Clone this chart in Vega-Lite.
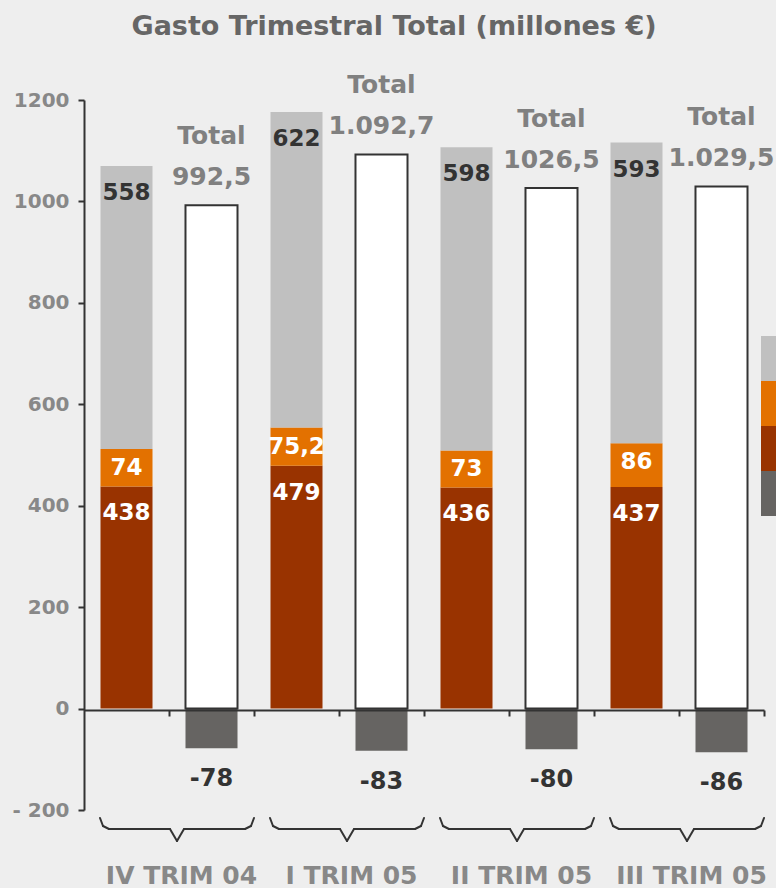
{
  "$schema": "https://vega.github.io/schema/vega-lite/v6.json",
  "width": 680,
  "height": 710,
  "autosize": {"type": "none"},
  "padding": {"left": 84, "top": 100, "right": 12, "bottom": 78},
  "background": "#eeeeee",
  "title": {
    "text": "Gasto Trimestral Total (millones €)",
    "font": "DejaVu Sans",
    "fontSize": 27,
    "fontWeight": "bold",
    "color": "#666666",
    "anchor": "middle",
    "frame": "group",
    "dx": -30,
    "baseline": "bottom",
    "offset": 5
  },
  "config": {
    "view": {"stroke": null},
    "font": "DejaVu Sans"
  },
  "datasets": {
    "gasto": [
      {"barra": "IV TRIM 04", "serie": "Base", "orden": 1, "valor": 438, "etiqueta": "438"},
      {"barra": "IV TRIM 04", "serie": "Variable", "orden": 2, "valor": 74, "etiqueta": "74"},
      {"barra": "IV TRIM 04", "serie": "Otros", "orden": 3, "valor": 558, "etiqueta": "558"},
      {"barra": "IV TRIM 04 Total", "serie": "Total", "orden": 1, "valor": 992.5, "etiqueta": "992,5"},
      {"barra": "IV TRIM 04 Total", "serie": "Ajuste", "orden": 2, "valor": -78, "etiqueta": "-78"},
      {"barra": "I TRIM 05", "serie": "Base", "orden": 1, "valor": 479, "etiqueta": "479"},
      {"barra": "I TRIM 05", "serie": "Variable", "orden": 2, "valor": 75.2, "etiqueta": "75,2"},
      {"barra": "I TRIM 05", "serie": "Otros", "orden": 3, "valor": 622, "etiqueta": "622"},
      {"barra": "I TRIM 05 Total", "serie": "Total", "orden": 1, "valor": 1092.7, "etiqueta": "1.092,7"},
      {"barra": "I TRIM 05 Total", "serie": "Ajuste", "orden": 2, "valor": -83, "etiqueta": "-83"},
      {"barra": "II TRIM 05", "serie": "Base", "orden": 1, "valor": 436, "etiqueta": "436"},
      {"barra": "II TRIM 05", "serie": "Variable", "orden": 2, "valor": 73, "etiqueta": "73"},
      {"barra": "II TRIM 05", "serie": "Otros", "orden": 3, "valor": 598, "etiqueta": "598"},
      {"barra": "II TRIM 05 Total", "serie": "Total", "orden": 1, "valor": 1026.5, "etiqueta": "1026,5"},
      {"barra": "II TRIM 05 Total", "serie": "Ajuste", "orden": 2, "valor": -80, "etiqueta": "-80"},
      {"barra": "III TRIM 05", "serie": "Base", "orden": 1, "valor": 437, "etiqueta": "437"},
      {"barra": "III TRIM 05", "serie": "Variable", "orden": 2, "valor": 86, "etiqueta": "86"},
      {"barra": "III TRIM 05", "serie": "Otros", "orden": 3, "valor": 593, "etiqueta": "593"},
      {"barra": "III TRIM 05 Total", "serie": "Total", "orden": 1, "valor": 1029.5, "etiqueta": "1.029,5"},
      {"barra": "III TRIM 05 Total", "serie": "Ajuste", "orden": 2, "valor": -86, "etiqueta": "-86"}
    ]
  },
  "data": {"name": "gasto"},
  "encoding": {
    "x": {
      "field": "barra",
      "type": "nominal",
      "sort": ["IV TRIM 04", "IV TRIM 04 Total", "I TRIM 05", "I TRIM 05 Total", "II TRIM 05", "II TRIM 05 Total", "III TRIM 05", "III TRIM 05 Total"],
      "scale": {"paddingInner": 0, "paddingOuter": 0},
      "axis": {
        "title": null,
        "offset": -100,
        "bandPosition": 1,
        "labelExpr": "indexof(datum.value, 'Total') >= 0 ? '' : datum.value",
        "labelAngle": 0,
        "labelFont": "DejaVu Sans",
        "labelFontSize": 25,
        "labelFontWeight": "bold",
        "labelColor": "#888888",
        "labelPadding": 147,
        "labelOffset": 55,
        "labelBaseline": "top",
        "labelOverlap": false,
        "labelBound": false,
        "labelLimit": 0,
        "domainColor": "#333333",
        "domainWidth": 2,
        "tickColor": "#333333",
        "tickWidth": 2,
        "tickSize": 6,
        "zindex": 1
      }
    }
  },
  "layer": [
    {
      "transform": [{"filter": "datum.serie !== 'Total'"}],
      "mark": {"type": "bar", "width": {"band": 0.612}},
      "encoding": {
        "y": {
          "field": "valor",
          "type": "quantitative",
          "stack": "zero",
          "scale": {"domain": [-200, 1200], "nice": false},
          "axis": {
            "title": null,
            "values": [-200, 0, 200, 400, 600, 800, 1000, 1200],
            "labelExpr": "datum.value < 0 ? '- ' + abs(datum.value) : '' + datum.value",
            "grid": false,
            "labelFont": "DejaVu Sans",
            "labelFontSize": 20,
            "labelFontWeight": "bold",
            "labelColor": "#888888",
            "labelPadding": 9,
            "domainColor": "#333333",
            "domainWidth": 2,
            "tickColor": "#333333",
            "tickWidth": 2,
            "tickSize": 6,
            "zindex": 1
          }
        },
        "color": {
          "field": "serie",
          "type": "nominal",
          "scale": {
            "domain": ["Otros", "Variable", "Base", "Ajuste"],
            "range": ["#c0c0c0", "#e37100", "#993300", "#666462"]
          },
          "legend": {
            "orient": "none",
            "legendX": 677,
            "legendY": 236,
            "title": null,
            "symbolType": "square",
            "symbolSize": 2025,
            "symbolStrokeWidth": 0,
            "symbolOpacity": 1,
            "rowPadding": 0,
            "padding": 0,
            "labelExpr": "''",
            "labelFontSize": 10
          }
        },
        "order": {"field": "orden", "type": "quantitative"}
      }
    },
    {
      "transform": [{"filter": "datum.serie === 'Total'"}],
      "mark": {"type": "bar", "width": {"band": 0.612}, "fill": "#ffffff", "stroke": "#333333", "strokeWidth": 2},
      "encoding": {
        "y": {"field": "valor", "type": "quantitative"}
      }
    },
    {
      "transform": [
        {"filter": "datum.serie !== 'Total' && datum.serie !== 'Ajuste'"},
        {"stack": "valor", "groupby": ["barra"], "sort": [{"field": "orden"}], "as": ["v0", "v1"]},
        {"filter": "datum.serie !== 'Variable'"}
      ],
      "mark": {"type": "text", "font": "DejaVu Sans", "fontSize": 23, "fontWeight": "bold", "baseline": "middle", "dy": 27},
      "encoding": {
        "y": {"field": "v1", "type": "quantitative"},
        "text": {"field": "etiqueta"},
        "color": {"condition": {"test": "datum.serie === 'Otros'", "value": "#333333"}, "value": "#ffffff"}
      }
    },
    {
      "transform": [
        {"filter": "datum.serie !== 'Total' && datum.serie !== 'Ajuste'"},
        {"stack": "valor", "groupby": ["barra"], "sort": [{"field": "orden"}], "as": ["v0", "v1"]},
        {"filter": "datum.serie === 'Variable'"}
      ],
      "mark": {"type": "text", "font": "DejaVu Sans", "fontSize": 23, "fontWeight": "bold", "baseline": "middle", "dy": 19, "color": "#ffffff"},
      "encoding": {
        "y": {"field": "v1", "type": "quantitative"},
        "text": {"field": "etiqueta"}
      }
    },
    {
      "transform": [{"filter": "datum.serie === 'Total'"}],
      "mark": {"type": "text", "font": "DejaVu Sans", "fontSize": 25, "fontWeight": "bold", "baseline": "middle", "dy": -28, "color": "#808080"},
      "encoding": {
        "y": {"field": "valor", "type": "quantitative"},
        "text": {"field": "etiqueta"}
      }
    },
    {
      "transform": [{"filter": "datum.serie === 'Total'"}],
      "mark": {"type": "text", "font": "DejaVu Sans", "fontSize": 25, "fontWeight": "bold", "baseline": "middle", "dy": -69, "color": "#808080"},
      "encoding": {
        "y": {"field": "valor", "type": "quantitative"},
        "text": {"value": "Total"}
      }
    },
    {
      "transform": [{"filter": "datum.serie === 'Ajuste'"}],
      "mark": {"type": "text", "font": "DejaVu Sans", "fontSize": 24, "fontWeight": "bold", "baseline": "middle", "dy": 31, "color": "#333333"},
      "encoding": {
        "y": {"field": "valor", "type": "quantitative"},
        "text": {"field": "etiqueta"}
      }
    },
    {
      "transform": [{"filter": "datum.serie === 'Base'"}],
      "mark": {"type": "rule", "color": "#333333", "strokeWidth": 2, "strokeCap": "round", "xOffset": -69, "x2Offset": -66, "yOffset": 8, "y2Offset": 16},
      "encoding": {"x": {"field": "barra", "type": "nominal", "bandPosition": 1}, "x2": {"field": "barra", "bandPosition": 1}, "y": {"datum": -200, "type": "quantitative"}, "y2": {"datum": -200}}
    },
    {
      "transform": [{"filter": "datum.serie === 'Base'"}],
      "mark": {"type": "rule", "color": "#333333", "strokeWidth": 2, "strokeCap": "round", "xOffset": -66, "x2Offset": -60, "yOffset": 16, "y2Offset": 19},
      "encoding": {"x": {"field": "barra", "type": "nominal", "bandPosition": 1}, "x2": {"field": "barra", "bandPosition": 1}, "y": {"datum": -200, "type": "quantitative"}, "y2": {"datum": -200}}
    },
    {
      "transform": [{"filter": "datum.serie === 'Base'"}],
      "mark": {"type": "rule", "color": "#333333", "strokeWidth": 2, "strokeCap": "round", "xOffset": -60, "x2Offset": 1, "yOffset": 19, "y2Offset": 19},
      "encoding": {"x": {"field": "barra", "type": "nominal", "bandPosition": 1}, "x2": {"field": "barra", "bandPosition": 1}, "y": {"datum": -200, "type": "quantitative"}, "y2": {"datum": -200}}
    },
    {
      "transform": [{"filter": "datum.serie === 'Base'"}],
      "mark": {"type": "rule", "color": "#333333", "strokeWidth": 2, "strokeCap": "round", "xOffset": 1, "x2Offset": 8, "yOffset": 19, "y2Offset": 31},
      "encoding": {"x": {"field": "barra", "type": "nominal", "bandPosition": 1}, "x2": {"field": "barra", "bandPosition": 1}, "y": {"datum": -200, "type": "quantitative"}, "y2": {"datum": -200}}
    },
    {
      "transform": [{"filter": "datum.serie === 'Base'"}],
      "mark": {"type": "rule", "color": "#333333", "strokeWidth": 2, "strokeCap": "round", "xOffset": 8, "x2Offset": 15, "yOffset": 31, "y2Offset": 19},
      "encoding": {"x": {"field": "barra", "type": "nominal", "bandPosition": 1}, "x2": {"field": "barra", "bandPosition": 1}, "y": {"datum": -200, "type": "quantitative"}, "y2": {"datum": -200}}
    },
    {
      "transform": [{"filter": "datum.serie === 'Base'"}],
      "mark": {"type": "rule", "color": "#333333", "strokeWidth": 2, "strokeCap": "round", "xOffset": 15, "x2Offset": 76, "yOffset": 19, "y2Offset": 19},
      "encoding": {"x": {"field": "barra", "type": "nominal", "bandPosition": 1}, "x2": {"field": "barra", "bandPosition": 1}, "y": {"datum": -200, "type": "quantitative"}, "y2": {"datum": -200}}
    },
    {
      "transform": [{"filter": "datum.serie === 'Base'"}],
      "mark": {"type": "rule", "color": "#333333", "strokeWidth": 2, "strokeCap": "round", "xOffset": 76, "x2Offset": 82, "yOffset": 19, "y2Offset": 16},
      "encoding": {"x": {"field": "barra", "type": "nominal", "bandPosition": 1}, "x2": {"field": "barra", "bandPosition": 1}, "y": {"datum": -200, "type": "quantitative"}, "y2": {"datum": -200}}
    },
    {
      "transform": [{"filter": "datum.serie === 'Base'"}],
      "mark": {"type": "rule", "color": "#333333", "strokeWidth": 2, "strokeCap": "round", "xOffset": 82, "x2Offset": 85, "yOffset": 16, "y2Offset": 8},
      "encoding": {"x": {"field": "barra", "type": "nominal", "bandPosition": 1}, "x2": {"field": "barra", "bandPosition": 1}, "y": {"datum": -200, "type": "quantitative"}, "y2": {"datum": -200}}
    }
  ]
}
